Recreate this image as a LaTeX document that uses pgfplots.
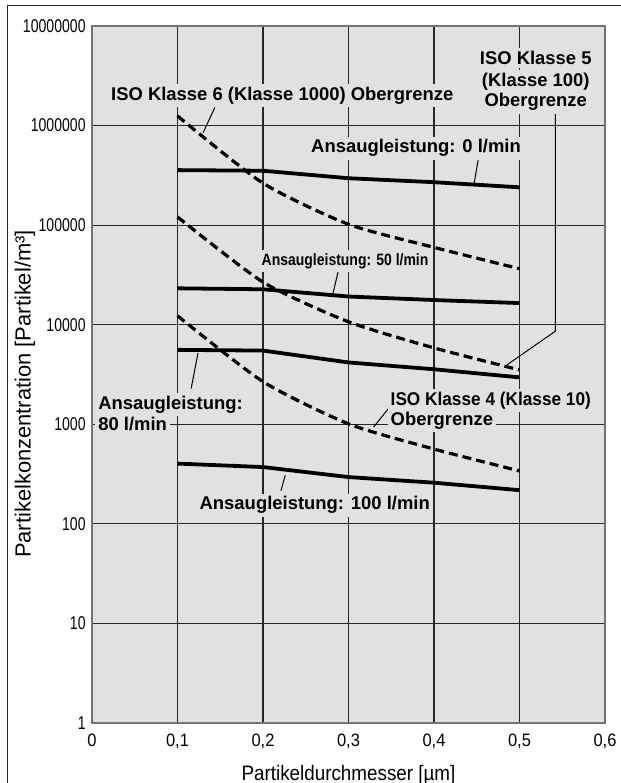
\documentclass[border=0pt]{standalone}
\usepackage{fontspec}
\setmainfont{Liberation Sans}
\newfontfamily\ytfont[FakeStretch=0.76]{Liberation Sans}
\newfontfamily\xtfont[FakeStretch=0.92]{Liberation Sans}
\newfontfamily\xlfont[FakeStretch=0.9]{Liberation Sans}
\newfontfamily\nbfont[FakeStretch=0.85]{Liberation Sans}
\newfontfamily\ncfont[FakeStretch=0.935]{Liberation Sans}
\usepackage{pgfplots}
\pgfplotsset{compat=1.18}
\definecolor{bgc}{RGB}{224,225,227}
\begin{document}
\begin{tikzpicture}[
  lbl/.style={font=\bfseries\fontsize{9.25}{10.5}\selectfont, fill=bgc, inner sep=1.5bp},
  solidc/.style={black, line width=1.9bp},
  dashc/.style={black, line width=1.6bp, dash pattern=on 4.5bp off 2.5bp, smooth, tension=0.4},
  leader/.style={black, line width=0.5bp},
]
\useasboundingbox (0,0) rectangle (310.5bp,391.5bp);
\draw[line width=0.75bp, black!85] (3.65bp,0) -- (3.65bp,388.65bp) -- (310.5bp,388.65bp);
\begin{axis}[
  at={(46bp,30bp)}, anchor=south west,
  width=256.5bp, height=348.5bp, scale only axis,
  xmin=0, xmax=0.6, ymode=log, ymin=1, ymax=1e7, log basis y=10,
  xtick={0,0.1,0.2,0.3,0.4,0.5,0.6},
  xticklabels={0,{0,1},{0,2},{0,3},{0,4},{0,5},{0,6}},
  ytick={1,10,100,1000,10000,100000,1000000,10000000},
  yticklabels={1,10,100,1000,10000,100000,1000000,10000000},
  yminorticks=false, xminorticks=false,
  major tick length=0pt,
  grid=major, major grid style={black!85, line width=0.55bp},
  axis line style={black!55, line width=0.8bp},
  axis background/.style={fill=bgc},
  /pgf/number format/assume math mode=true,
  yticklabel style={font=\ytfont\fontsize{9.3}{10}\selectfont, anchor=east, inner sep=0pt, xshift=-3bp},
  xticklabel style={font=\xtfont\fontsize{9}{10}\selectfont, anchor=base, inner sep=0pt, yshift=-11.5bp},
  xlabel={Partikeldurchmesser [µm]},
  ylabel={Partikelkonzentration [Partikel/m³]},
  xlabel style={at={(axis description cs:0.5,-0.0818)}, anchor=base, font=\xlfont\fontsize{10.5}{12}\selectfont},
  ylabel style={at={(axis description cs:-0.1306,0.472)}, anchor=center, font=\fontsize{11}{12}\selectfont},
  clip=false,
]
% Ansaugleistung curves (solid)
\addplot[solidc] coordinates {(0.1,3.57e5)(0.2,3.52e5)(0.3,2.96e5)(0.4,2.70e5)(0.5,2.40e5)};
\addplot[solidc] coordinates {(0.1,2.32e4)(0.2,2.27e4)(0.3,1.92e4)(0.4,1.77e4)(0.5,1.65e4)};
\addplot[solidc] coordinates {(0.1,5.59e3)(0.2,5.50e3)(0.3,4.18e3)(0.4,3.57e3)(0.5,2.96e3)};
\addplot[solidc] coordinates {(0.1,403)(0.2,372)(0.3,295)(0.4,259)(0.5,218)};
% ISO class upper limits (dashed)
\addplot[dashc] coordinates {(0.1,1.25e6)(0.2,2.64e5)(0.3,1.02e5)(0.4,5.98e4)(0.5,3.65e4)};
\addplot[dashc] coordinates {(0.1,1.21e5)(0.2,2.68e4)(0.3,1.07e4)(0.4,5.85e3)(0.5,3.52e3)};
\addplot[dashc] coordinates {(0.1,1.23e4)(0.2,2.68e3)(0.3,1.01e3)(0.4,564)(0.5,340)};
% leader lines
\draw[leader] (axis cs:0.1437,1.52e6) -- (axis cs:0.130,8.49e5);
\draw[leader] (axis cs:0.542,1.35e6) -- (axis cs:0.542,8.62e3) -- (axis cs:0.4855,3.96e3);
\draw[leader] (axis cs:0.452,4.71e5) -- (axis cs:0.447,2.64e5);
\draw[leader] (axis cs:0.288,3.45e4) -- (axis cs:0.282,2.08e4);
\draw[leader] (axis cs:0.124,5.2e3) -- (axis cs:0.116,2.29e3);
\draw[leader] (axis cs:0.3472,1.46e3) -- (axis cs:0.3294,937);
\draw[leader] (axis cs:0.226,309) -- (axis cs:0.221,215);
% labels
\node[lbl] at (axis cs:0.2225,2.0e6) {ISO Klasse 6 (Klasse 1000) Obergrenze};
\node[lbl, anchor=base] at (axis cs:0.519,4.08e6) {ISO Klasse 5};
\node[lbl, anchor=base] at (axis cs:0.519,2.48e6) {(Klasse 100)};
\node[lbl, anchor=base] at (axis cs:0.519,1.55e6) {Obergrenze};
\node[lbl] at (axis cs:0.379,5.93e5) {Ansaugleistung: 0 l/min};
\node[lbl, font=\nbfont\bfseries\fontsize{8.25}{9}\selectfont] at (axis cs:0.296,4.35e4) {Ansaugleistung: 50 l/min};
\node[lbl, anchor=base west] at (axis cs:0.0035,1.42e3) {Ansaugleistung:};
\node[lbl, anchor=base west] at (axis cs:0.0035,868) {80 l/min};
\node[lbl, anchor=base west, font=\ncfont\bfseries\fontsize{9.25}{10.5}\selectfont] at (axis cs:0.3454,1.56e3) {ISO Klasse 4 (Klasse 10)};
\node[lbl, anchor=base west] at (axis cs:0.3454,975) {Obergrenze};
\node[lbl] at (axis cs:0.2605,154) {Ansaugleistung: 100 l/min};
\end{axis}
\end{tikzpicture}
\end{document}
